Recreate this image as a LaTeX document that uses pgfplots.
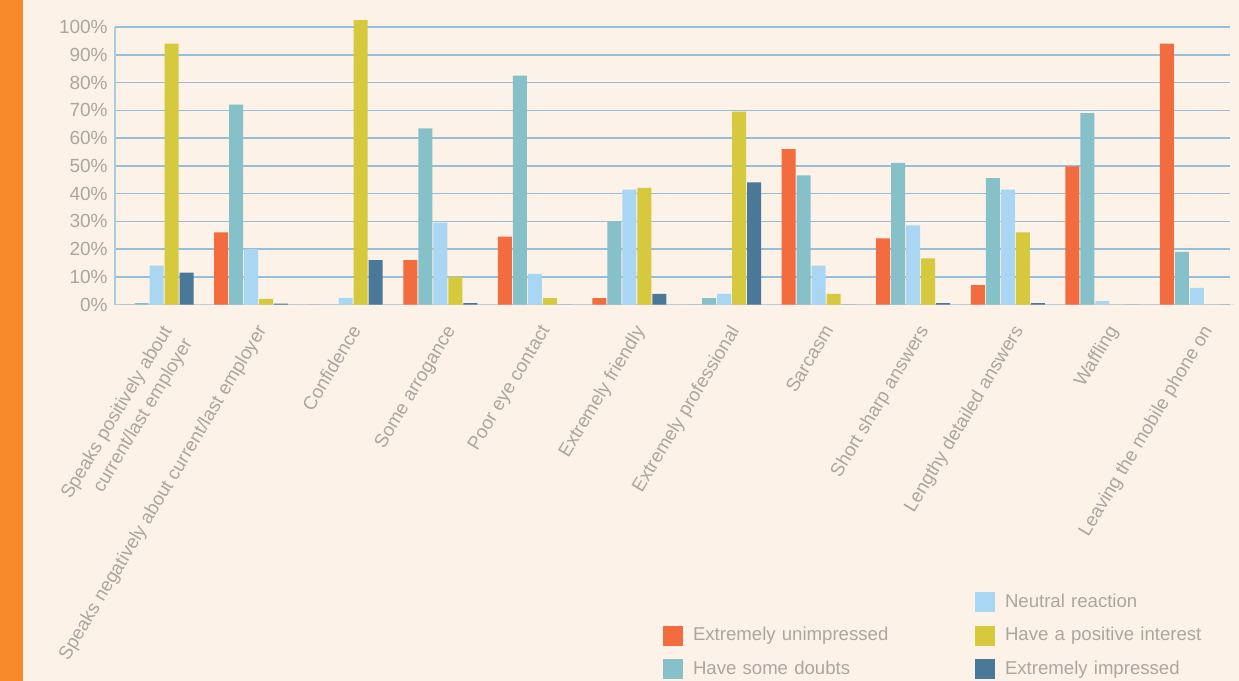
\documentclass[border=0pt]{standalone}
\usepackage{pgfplots}
\pgfplotsset{compat=1.18}
\usepackage{pgfplotstable}
\usepackage{fontspec}
\setmainfont{Liberation Sans}
\definecolor{bg}{RGB}{252,242,232}
\definecolor{strip}{RGB}{246,138,40}
\definecolor{cU}{RGB}{242,108,63}
\definecolor{cD}{RGB}{134,192,200}
\definecolor{cN}{RGB}{168,214,243}
\definecolor{cP}{RGB}{215,201,62}
\definecolor{cI}{RGB}{74,120,153}
\definecolor{gridc}{RGB}{150,190,217}
\definecolor{txt}{RGB}{172,166,160}
\pgfplotstableread{
x U D N P I
0 0 0.5 14 94 11.5
1 26 72 20 2 0.3
2 0 0 2.3 102.5 16
3 16 63.5 29.5 10 0.5
4 24.5 82.5 11 2.3 0
5 2.3 30 41.4 42 3.8
6 0 2.3 3.8 69.5 44
7 56 46.5 14 3.8 0
8 23.8 51 28.5 16.6 0.5
9 7 45.5 41.4 26 0.5
10 49.8 69 1.2 0 0
11 94 19 6 0 0
}\datatable
\begin{document}
\begin{tikzpicture}
\fill[bg] (0,0) rectangle (619.5pt,340.5pt);
\fill[strip] (0,0) rectangle (11.5pt,340.5pt);
\path[use as bounding box] (0,0) rectangle (619.5pt,340.5pt);
\begin{axis}[
  at={(57.5pt,188.25pt)}, anchor=south west,
  scale only axis, width=557.5pt, height=138.75pt,
  xmin=-0.439, xmax=11.349, ymin=0, ymax=100,
  clip=false,
  axis x line*=bottom, axis y line*=left,
  axis line style={-},
  x axis line style={color=gridc!70!gray!60, line width=0.9pt},
  y axis line style={color=gridc!80, line width=0.9pt},
  ymajorgrids, grid style={color=gridc, line width=0.75pt},
  major tick length=0pt,
  ytick={0,10,...,100},
  yticklabel={\pgfmathprintnumber{\tick}\%},
  /pgf/number format/assume math mode=true,
  yticklabel style={inner sep=0pt, xshift=-3.5pt, font=\fontsize{9.5pt}{11pt}\selectfont, text=txt},
  xtick={0,...,11},
  xticklabels={{Speaks positively about\\current/last employer},
    {Speaks negatively about current/last employer},
    Confidence, Some arrogance, Poor eye contact, Extremely friendly,
    Extremely professional, Sarcasm, Short sharp answers,
    Lengthy detailed answers, Waffling, Leaving the mobile phone on},
  xticklabel style={xshift=2pt, yshift=-9.25pt, rotate=59, anchor=north east, inner sep=0pt, align=right,
    font=\fontsize{9.4pt}{12pt}\selectfont, text=txt},
  legend columns=2,
  legend cell align=left,
  legend style={at={(0.49148,-1.0378)}, anchor=north west, draw=none, fill=none,
    inner sep=0pt, outer sep=0pt,
    font=\fontsize{9.3pt}{11pt}\selectfont, text=txt,
    nodes={inner sep=0pt, text width=141pt, text height=7pt, text depth=2pt},
    /tikz/every odd column/.style={column sep=5pt},
    /tikz/every even column/.style={column sep=0pt},
    row sep=6.75pt},
  legend image code/.code={\fill[#1] (0pt,-5pt) rectangle (10pt,5pt);},
]
\addplot[ybar, bar width=7pt, bar shift=-15pt, fill=cU, draw=none, forget plot] table[x=x,y=U]{\datatable};
\addplot[ybar, bar width=7pt, bar shift=-7.5pt, fill=cD, draw=none, forget plot] table[x=x,y=D]{\datatable};
\addplot[ybar, bar width=7pt, bar shift=0pt, fill=cN, draw=none, forget plot] table[x=x,y=N]{\datatable};
\addplot[ybar, bar width=7pt, bar shift=7.5pt, fill=cP, draw=none, forget plot] table[x=x,y=P]{\datatable};
\addplot[ybar, bar width=7pt, bar shift=15pt, fill=cI, draw=none, forget plot] table[x=x,y=I]{\datatable};
\addlegendimage{empty legend}\addlegendentry{}
\addlegendimage{fill=cN, draw=none}\addlegendentry{Neutral reaction}
\addlegendimage{fill=cU, draw=none}\addlegendentry{Extremely unimpressed}
\addlegendimage{fill=cP, draw=none}\addlegendentry{Have a positive interest}
\addlegendimage{fill=cD, draw=none}\addlegendentry{Have some doubts}
\addlegendimage{fill=cI, draw=none}\addlegendentry{Extremely impressed}
\end{axis}
\end{tikzpicture}
\end{document}
